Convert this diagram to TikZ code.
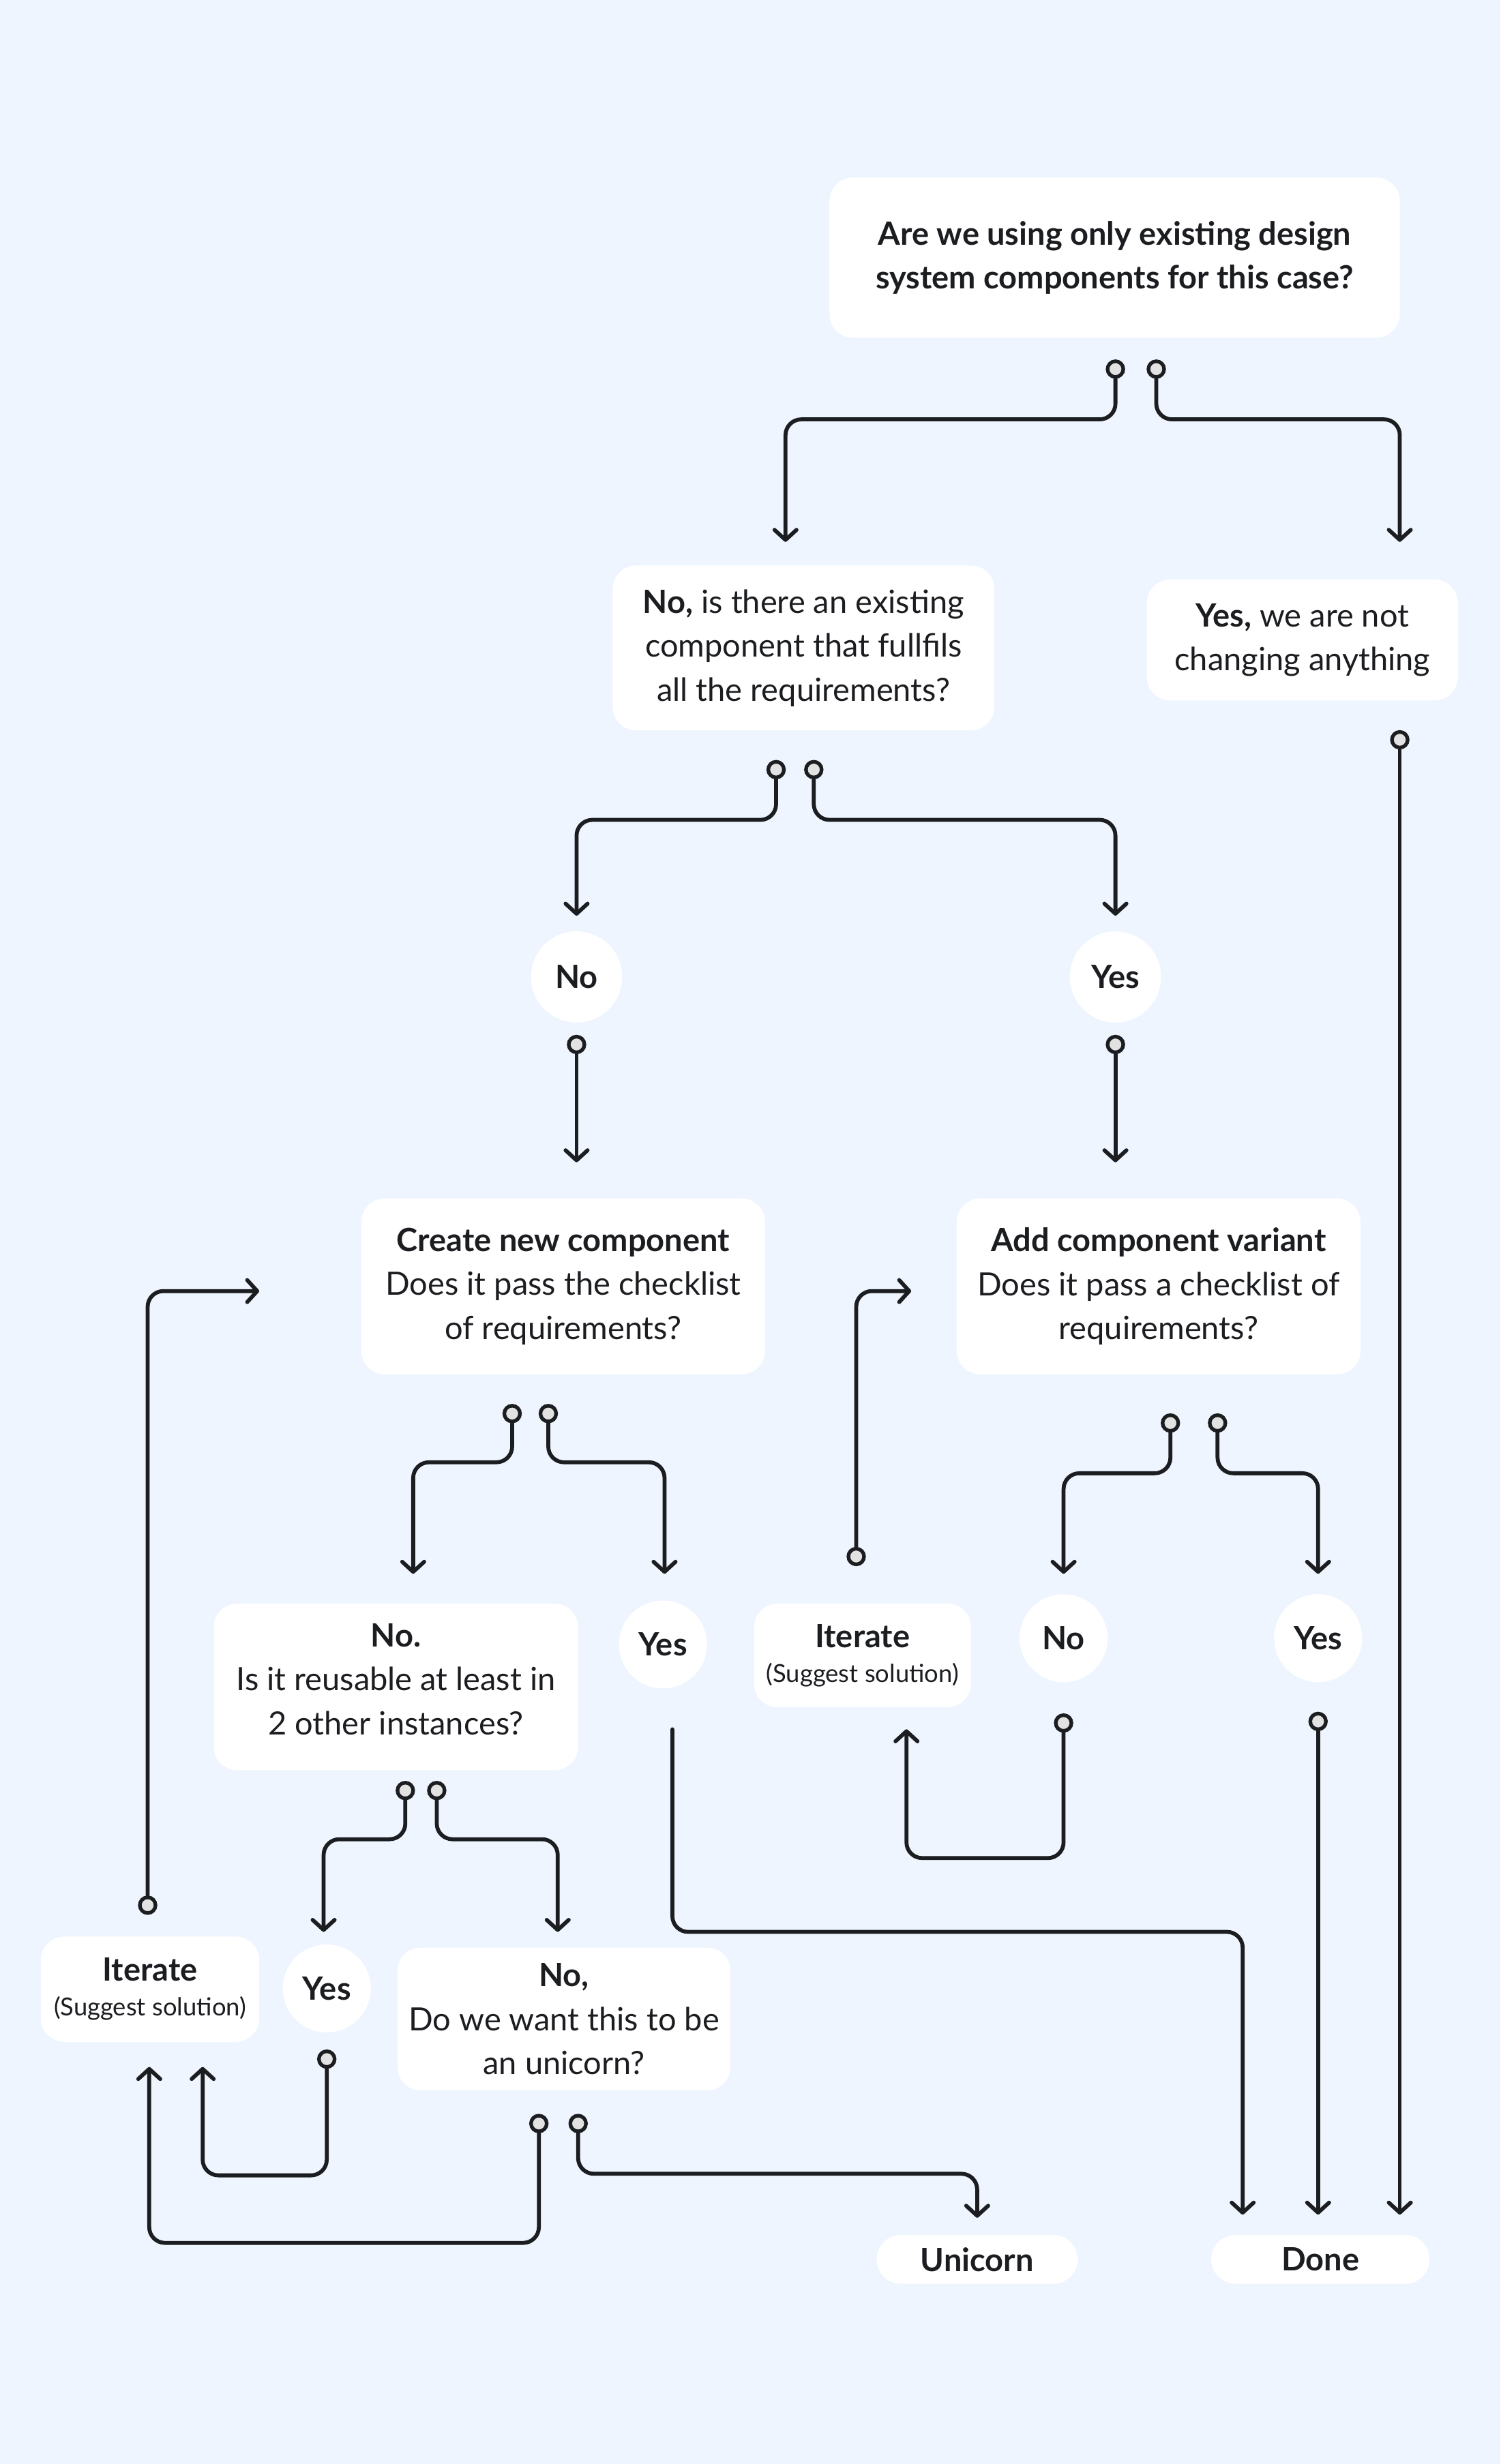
\documentclass[tikz,border=0pt]{standalone}
\usepackage{fontspec}
\setmainfont{Lato}
\usetikzlibrary{arrows.meta}
\definecolor{bg}{HTML}{EEF5FE}
\definecolor{lc}{HTML}{1B1D20}
\definecolor{dotfill}{HTML}{E2E2E2}
\tikzset{
  box/.style={fill=white, rounded corners=7.5pt, align=center, inner sep=0pt, text=lc,
    font=\fontsize{10.2pt}{14pt}\selectfont},
  bub/.style={circle, fill=white, inner sep=0pt, minimum size=29pt, text=lc,
    font=\fontsize{10.2pt}{14pt}\selectfont\bfseries},
  pill/.style={fill=white, rounded corners=7.7pt, inner sep=0pt, minimum height=15.5pt, text=lc,
    font=\fontsize{10.2pt}{14pt}\selectfont\bfseries},
  dotn/.style={circle, draw=lc, fill=dotfill, line width=1.15pt, minimum size=5pt, inner sep=0pt},
  conn/.style={draw=lc, line width=1.25pt, rounded corners=5pt, line cap=round,
    -{Straight Barb[length=3.2pt,width=7pt,line cap=round,line join=round]}}
}
\newcommand{\subtxt}[1]{{\fontsize{7.9pt}{11pt}\selectfont #1}}
\begin{document}
\begin{tikzpicture}[x=0.5pt,y=-0.5pt]
\fill[bg] (0,0) rectangle (955,1568.8);
\useasboundingbox (0,0) rectangle (955,1568.8);

% boxes
\node[box, minimum width=181.5pt, minimum height=51pt] (q1) at (709.5,164)
  {\textbf{Are we using only existing design}\\\textbf{system components for this case?}};
\node[box, minimum width=121.5pt, minimum height=52.5pt] (q2) at (511.5,412.5)
  {\textbf{No,} is there an existing\\component that fullfils\\all the requirements?};
\node[box, minimum width=99pt, minimum height=38.5pt] (yes1) at (829,407.5)
  {\textbf{Yes,} we are not\\changing anything};
\node[bub] (no2) at (367,622) {No};
\node[bub] (yes2) at (710,622) {Yes};
\node[box, minimum width=128.5pt, minimum height=56pt] (create) at (358.5,819)
  {\textbf{Create new component}\\Does it pass the checklist\\of requirements?};
\node[box, minimum width=128.5pt, minimum height=56pt] (variant) at (737.5,819)
  {\textbf{Add component variant}\\Does it pass a checklist of\\requirements?};
\node[box, minimum width=116pt, minimum height=53pt] (reuse) at (252,1074)
  {\textbf{No.}\\Is it reusable at least in\\2 other instances?\\[-9pt]};
\node[bub, minimum size=28pt] (yes3) at (422,1047) {Yes};
\node[box, minimum width=69pt, minimum height=33pt, font=\fontsize{10.2pt}{11pt}\selectfont] (iter1) at (549,1054)
  {\textbf{Iterate}\\\subtxt{(Suggest solution)}};
\node[bub, minimum size=28pt] (no4) at (677,1043) {No};
\node[bub, minimum size=28pt] (yes4) at (839,1043) {Yes};
\node[box, minimum width=69.5pt, minimum height=33.5pt, font=\fontsize{10.2pt}{11pt}\selectfont] (iter2) at (95.5,1266.5)
  {\textbf{Iterate}\\\subtxt{(Suggest solution)}};
\node[bub, minimum size=28pt] (yes5) at (208,1266) {Yes};
\node[box, minimum width=106pt, minimum height=45.5pt] (unic) at (359,1285.5)
  {\textbf{No,}\\Do we want this to be\\an unicorn?};
\node[pill, minimum width=64pt] (unicorn) at (622,1438.5) {Unicorn};
\node[pill, minimum width=69.5pt] (done) at (840.5,1438.5) {Done};

% dots
\node[dotn] (d1a) at (710,235) {};
\node[dotn] (d1b) at (736,235) {};
\node[dotn] (d2a) at (494,490) {};
\node[dotn] (d2b) at (518,490) {};
\node[dotn] (d3) at (891,471) {};
\node[dotn] (d4) at (367,665) {};
\node[dotn] (d5) at (710,665) {};
\node[dotn] (d6a) at (326,900) {};
\node[dotn] (d6b) at (349,900) {};
\node[dotn] (d7a) at (745,906) {};
\node[dotn] (d7b) at (775,906) {};
\node[dotn] (d10) at (545,991) {};
\node[dotn] (d11) at (677,1097) {};
\node[dotn] (d12) at (839,1096) {};
\node[dotn] (d8a) at (258,1140) {};
\node[dotn] (d8b) at (278,1140) {};
\node[dotn] (d13) at (94,1213) {};
\node[dotn] (d14) at (208,1311) {};
\node[dotn] (d15a) at (343,1352) {};
\node[dotn] (d15b) at (368,1352) {};
\coordinate (s9) at (428,1101);

% arrow tips
\coordinate (t1a) at (500,345);
\coordinate (t1b) at (891,345);
\coordinate (t2a) at (367,583);
\coordinate (t2b) at (710,583);
\coordinate (t3) at (891,1410);
\coordinate (t4) at (367,740);
\coordinate (t5) at (710,740);
\coordinate (t6a) at (263,1002);
\coordinate (t6b) at (423,1002);
\coordinate (t7a) at (677,1002);
\coordinate (t7b) at (839,1002);
\coordinate (t10) at (580,822);
\coordinate (t11) at (577,1101);
\coordinate (t12) at (839,1410);
\coordinate (t9) at (791,1410);
\coordinate (t8a) at (206,1230);
\coordinate (t8b) at (355,1230);
\coordinate (t13) at (165,822);
\coordinate (t14) at (129,1316);
\coordinate (t15a) at (95,1316);
\coordinate (t15b) at (622,1412);

% connectors
\draw[conn] (d1a) -- (d1a |- 0,267) -- (t1a |- 0,267) -- (t1a);
\draw[conn] (d1b) -- (d1b |- 0,267) -- (t1b |- 0,267) -- (t1b);
\draw[conn] (d2a) -- (d2a |- 0,522) -- (t2a |- 0,522) -- (t2a);
\draw[conn] (d2b) -- (d2b |- 0,522) -- (t2b |- 0,522) -- (t2b);
\draw[conn] (d3) -- (t3);
\draw[conn] (d4) -- (t4);
\draw[conn] (d5) -- (t5);
\draw[conn] (d6a) -- (d6a |- 0,931) -- (t6a |- 0,931) -- (t6a);
\draw[conn] (d6b) -- (d6b |- 0,931) -- (t6b |- 0,931) -- (t6b);
\draw[conn] (d7a) -- (d7a |- 0,938) -- (t7a |- 0,938) -- (t7a);
\draw[conn] (d7b) -- (d7b |- 0,938) -- (t7b |- 0,938) -- (t7b);
\draw[conn] (d10) -- (d10 |- t10) -- (t10);
\draw[conn] (d11) -- (d11 |- 0,1183) -- (t11 |- 0,1183) -- (t11);
\draw[conn] (d12) -- (t12);
\draw[conn] (s9) -- (s9 |- 0,1230) -- (t9 |- 0,1230) -- (t9);
\draw[conn] (d8a) -- (d8a |- 0,1171) -- (t8a |- 0,1171) -- (t8a);
\draw[conn] (d8b) -- (d8b |- 0,1171) -- (t8b |- 0,1171) -- (t8b);
\draw[conn] (d13) -- (d13 |- t13) -- (t13);
\draw[conn] (d14) -- (d14 |- 0,1385) -- (t14 |- 0,1385) -- (t14);
\draw[conn] (d15a) -- (d15a |- 0,1428) -- (t15a |- 0,1428) -- (t15a);
\draw[conn] (d15b) -- (d15b |- 0,1384) -- (t15b |- 0,1384) -- (t15b);
\end{tikzpicture}
\end{document}
